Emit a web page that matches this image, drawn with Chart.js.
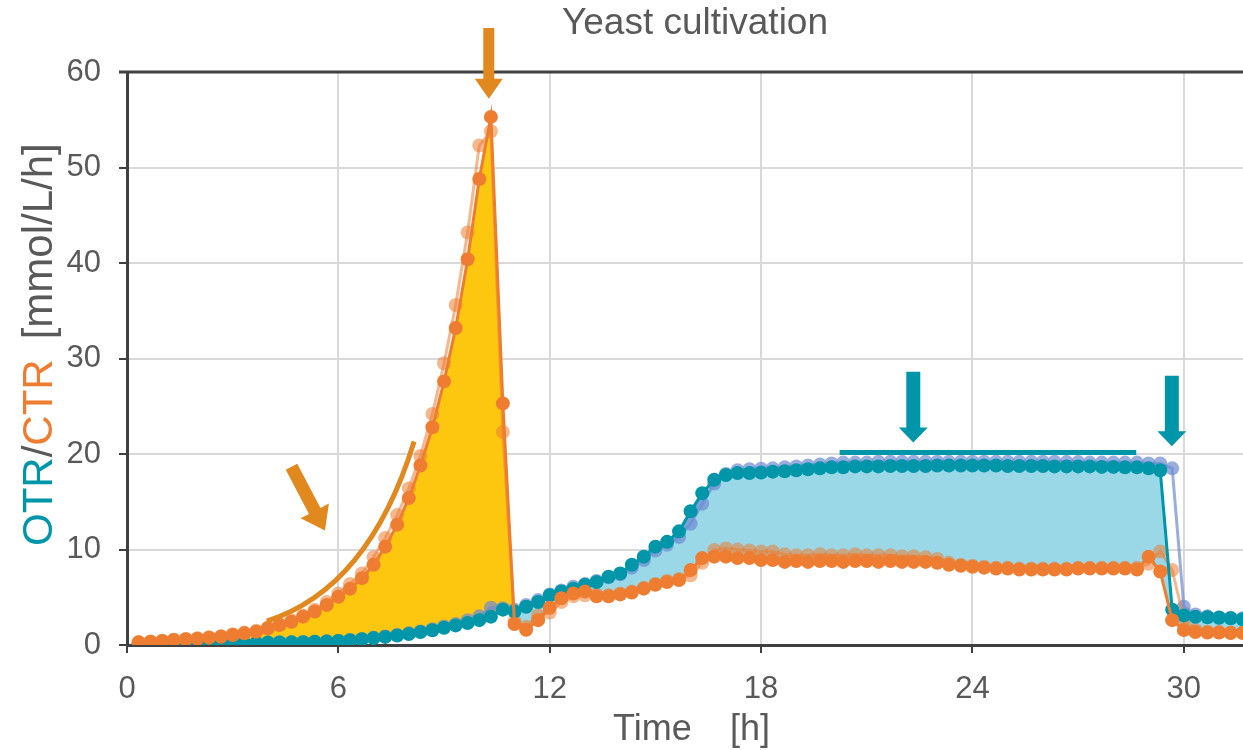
<!DOCTYPE html>
<html>
<head>
<meta charset="utf-8">
<script src="https://cdn.jsdelivr.net/npm/chart.js@4/dist/chart.umd.min.js"></script>
<style>
  html, body { margin: 0; padding: 0; background: #ffffff; }
  #wrap { width: 1243px; height: 750px; }
</style>
</head>
<body>
<div id="wrap"><canvas id="c" width="1243" height="750"></canvas></div>
<script>
// ---------- data ----------
const times = [0.33,0.67,1.00,1.33,1.67,2.00,2.33,2.67,3.00,3.33,3.67,4.00,4.33,4.67,5.00,5.33,5.67,6.00,6.33,6.67,
  7.00,7.33,7.67,8.00,8.33,8.67,9.00,9.33,9.67,10.00,10.33,10.67,11.00,11.33,11.67,12.00,12.33,12.67,13.00,13.33,
  13.67,14.00,14.33,14.67,15.00,15.33,15.67,16.00,16.33,16.67,17.00,17.33,17.67,18.00,18.33,18.67,19.00,19.33,19.67,20.00,
  20.33,20.67,21.00,21.33,21.67,22.00,22.33,22.67,23.00,23.33,23.67,24.00,24.33,24.67,25.00,25.33,25.67,26.00,26.33,26.67,
  27.00,27.33,27.67,28.00,28.33,28.67,29.00,29.33,29.67,30.00,30.33,30.67,31.00,31.33,31.67];

const ctr = [0.28,0.35,0.42,0.52,0.6,0.66,0.77,0.87,1.05,1.22,
  1.4,1.75,2.1,2.44,2.97,3.5,4.2,5.06,5.9,7.0,
  8.4,10.3,12.6,15.4,18.8,22.8,27.6,33.2,40.4,48.8,
  55.3,25.3,2.2,1.6,2.6,3.9,4.9,5.4,5.6,5.1,
  5.1,5.3,5.5,5.9,6.3,6.6,6.8,7.85,9.1,9.25,
  9.25,9.1,9.1,8.9,8.9,8.7,8.8,8.7,8.8,8.8,
  8.7,8.8,8.8,8.7,8.8,8.7,8.7,8.7,8.6,8.4,
  8.3,8.2,8.1,8.0,8.0,7.9,7.9,7.9,7.9,7.9,
  8.0,8.0,8.0,8.0,8.0,7.9,9.25,7.7,2.6,1.57,
  1.35,1.3,1.3,1.25,1.25];

const ctrReplicate = [0.3,0.37,0.45,0.55,0.63,0.7,0.82,0.93,1.12,1.3,
  1.5,1.85,2.2,2.6,3.1,3.7,4.5,5.4,6.4,7.5,
  9.2,11.2,13.6,16.4,19.8,24.2,29.5,35.6,43.2,52.3,
  53.8,22.3,2.5,1.9,3.1,3.4,4.5,5.1,5.2,5.3,
  5.2,5.4,5.6,6.0,6.4,6.7,6.9,7.3,8.6,9.95,
  10.1,10.0,9.9,9.8,9.8,9.5,9.4,9.4,9.5,9.4,
  9.4,9.5,9.4,9.4,9.4,9.3,9.3,9.2,9.0,8.6,
  8.4,8.3,8.2,8.1,8.1,8.0,8.0,8.0,8.0,8.0,
  8.1,8.1,8.1,8.1,8.1,8.1,8.5,9.8,7.85,2.8,
  1.6,1.4,1.35,1.3,1.3];

const otr = [0.1,0.1,0.12,0.12,0.14,0.15,0.15,0.17,0.18,0.2,
  0.22,0.25,0.27,0.28,0.3,0.33,0.36,0.42,0.5,0.6,
  0.72,0.85,1.0,1.15,1.35,1.55,1.8,2.05,2.3,2.6,
  2.97,3.7,3.5,4.0,4.5,5.2,5.6,5.9,6.3,6.6,
  7.15,7.5,8.4,9.25,10.3,10.8,11.9,14.0,15.9,17.3,
  17.8,18.0,18.0,18.05,18.15,18.2,18.3,18.4,18.5,18.6,
  18.6,18.7,18.7,18.7,18.75,18.75,18.75,18.75,18.8,18.8,
  18.8,18.8,18.8,18.8,18.75,18.75,18.75,18.75,18.7,18.7,
  18.7,18.7,18.65,18.65,18.6,18.6,18.5,18.3,3.7,3.1,
  2.95,2.9,2.85,2.8,2.7];

const otrReplicate = [0.12,0.12,0.14,0.15,0.16,0.17,0.18,0.19,0.2,0.22,
  0.24,0.27,0.29,0.3,0.32,0.35,0.38,0.45,0.52,0.62,
  0.75,0.9,1.05,1.22,1.42,1.65,1.95,2.2,2.6,3.0,
  3.9,3.85,3.7,4.2,4.7,5.3,5.7,6.1,6.4,6.7,
  7.1,7.4,8.1,8.9,9.9,10.5,11.3,12.7,14.8,16.9,
  17.9,18.3,18.4,18.45,18.5,18.6,18.7,18.8,18.9,19.0,
  19.1,19.1,19.1,19.2,19.2,19.2,19.2,19.2,19.2,19.2,
  19.2,19.2,19.2,19.2,19.2,19.2,19.2,19.2,19.2,19.15,
  19.15,19.1,19.1,19.1,19.1,19.1,19.0,19.0,18.5,4.0,
  3.2,3.0,2.9,2.85,2.8];

const xTicks = [0, 6, 12, 18, 24, 30];
const yTicks = [0, 10, 20, 30, 40, 50, 60];

const chartTitle = 'Yeast cultivation';
const xTitle = ['Time', '[h]'];
const yTitleParts = ['OTR', '/', 'CTR', '[mmol/L/h]'];

// annotation anchors in data units
const peakArrow = { x: 10.27, yTop: 64.6, yTip: 57.2 };
const growthArrow = { x1: 4.67, y1: 18.67, x2: 5.62, y2: 12.0 };
const growthArc = { x0: 3.97, y0: 2.5, cx: 6.87, cy: 5.9, x1: 8.15, y1: 21.3 };
const plateauArrow = { x: 22.32, yTop: 28.6, yTip: 21.2 };
const endArrow = { x: 29.66, yTop: 28.2, yTip: 20.8 };
const plateauLine = { x0: 20.23, x1: 28.65, y: 20.16 };

// ---------- styles ----------
const FONT = "'Liberation Sans', Arial, sans-serif";
const TEAL = '#0096A9';
const ORANGE = '#EE7D31';
const ARROW_ORANGE = '#E1891F';
const GRAY = '#595959';
const AXIS = '#404040';

const toXY = (vals) => vals.map((v, i) => ({ x: times[i], y: v }));

function arrowPath(ctx, x1, y1, x2, y2, shaftW, headW, headL) {
  const dx = x2 - x1, dy = y2 - y1;
  const len = Math.hypot(dx, dy);
  const ux = dx / len, uy = dy / len;
  const px = -uy, py = ux;
  const bx = x2 - ux * headL, by = y2 - uy * headL;
  ctx.beginPath();
  ctx.moveTo(x1 + px * shaftW / 2, y1 + py * shaftW / 2);
  ctx.lineTo(bx + px * shaftW / 2, by + py * shaftW / 2);
  ctx.lineTo(bx + px * headW / 2, by + py * headW / 2);
  ctx.lineTo(x2, y2);
  ctx.lineTo(bx - px * headW / 2, by - py * headW / 2);
  ctx.lineTo(bx - px * shaftW / 2, by - py * shaftW / 2);
  ctx.lineTo(x1 - px * shaftW / 2, y1 - py * shaftW / 2);
  ctx.closePath();
  ctx.fill();
}

const decorations = {
  id: 'decorations',
  afterDatasetsDraw(chart) {
    const { ctx, chartArea, scales: { x, y } } = chart;
    ctx.save();
    ctx.strokeStyle = AXIS; ctx.lineWidth = 3;
    ctx.beginPath();
    ctx.moveTo(chartArea.left - 8, y.getPixelForValue(60));
    ctx.lineTo(chartArea.right, y.getPixelForValue(60));
    ctx.stroke();

    ctx.strokeStyle = ARROW_ORANGE; ctx.lineWidth = 5; ctx.lineCap = 'butt';
    ctx.beginPath();
    ctx.moveTo(x.getPixelForValue(growthArc.x0), y.getPixelForValue(growthArc.y0));
    ctx.quadraticCurveTo(x.getPixelForValue(growthArc.cx), y.getPixelForValue(growthArc.cy),
                         x.getPixelForValue(growthArc.x1), y.getPixelForValue(growthArc.y1));
    ctx.stroke();

    ctx.fillStyle = ARROW_ORANGE;
    arrowPath(ctx, x.getPixelForValue(growthArrow.x1), y.getPixelForValue(growthArrow.y1),
              x.getPixelForValue(growthArrow.x2), y.getPixelForValue(growthArrow.y2), 13, 32, 22);
    arrowPath(ctx, x.getPixelForValue(peakArrow.x), y.getPixelForValue(peakArrow.yTop),
              x.getPixelForValue(peakArrow.x), y.getPixelForValue(peakArrow.yTip), 11, 28, 20);

    ctx.fillStyle = TEAL;
    arrowPath(ctx, x.getPixelForValue(plateauArrow.x), y.getPixelForValue(plateauArrow.yTop),
              x.getPixelForValue(plateauArrow.x), y.getPixelForValue(plateauArrow.yTip), 14, 29, 15);
    arrowPath(ctx, x.getPixelForValue(endArrow.x), y.getPixelForValue(endArrow.yTop),
              x.getPixelForValue(endArrow.x), y.getPixelForValue(endArrow.yTip), 14, 29, 15);
    ctx.strokeStyle = TEAL; ctx.lineWidth = 5;
    ctx.beginPath();
    ctx.moveTo(x.getPixelForValue(plateauLine.x0), y.getPixelForValue(plateauLine.y));
    ctx.lineTo(x.getPixelForValue(plateauLine.x1), y.getPixelForValue(plateauLine.y));
    ctx.stroke();
    ctx.restore();
  },
  afterDraw(chart) {
    const { ctx } = chart;
    ctx.save();
    ctx.fillStyle = GRAY;
    ctx.font = '37px ' + FONT;
    ctx.textAlign = 'center';
    ctx.textBaseline = 'alphabetic';
    ctx.fillText(chartTitle, 695, 34);

    ctx.textAlign = 'left';
    ctx.font = '36px ' + FONT;
    ctx.fillText(xTitle[0], 613, 740);
    ctx.fillText(xTitle[1], 730, 740);

    ctx.font = '42px ' + FONT;
    ctx.translate(52, 546);
    ctx.rotate(-Math.PI / 2);
    let pos = 0;
    const cols = [TEAL, GRAY, ORANGE, GRAY];
    yTitleParts.forEach((p, i) => {
      if (i === 3) pos += 20;
      ctx.fillStyle = cols[i];
      ctx.fillText(p, pos, 0);
      pos += ctx.measureText(p).width;
    });
    ctx.restore();
  }
};

const ctx = document.getElementById('c').getContext('2d');
const pt = { borderWidth: 3, pointRadius: 7, pointBorderWidth: 0, tension: 0 };
new Chart(ctx, {
  type: 'line',
  data: {
    datasets: [
      Object.assign({
        label: 'CTR', data: toXY(ctr),
        borderColor: ORANGE, backgroundColor: ORANGE, pointBackgroundColor: ORANGE,
        fill: { target: 1, above: '#FDC70F', below: '#9AD8E8' }
      }, pt),
      Object.assign({
        label: 'OTR', data: toXY(otr),
        borderColor: TEAL, backgroundColor: TEAL, pointBackgroundColor: TEAL, fill: false
      }, pt),
      Object.assign({
        label: 'CTR replicate', data: toXY(ctrReplicate),
        borderColor: 'rgba(237,125,49,0.55)', backgroundColor: 'rgba(237,125,49,0.55)',
        pointBackgroundColor: 'rgba(237,125,49,0.55)', fill: false
      }, pt),
      Object.assign({
        label: 'OTR replicate', data: toXY(otrReplicate),
        borderColor: 'rgba(110,140,210,0.7)', backgroundColor: 'rgba(110,140,210,0.7)',
        pointBackgroundColor: 'rgba(110,140,210,0.7)', fill: false
      }, pt)
    ]
  },
  options: {
    responsive: false,
    animation: false,
    layout: { autoPadding: false, padding: { top: 72, right: 0, left: 0, bottom: 0 } },
    plugins: {
      legend: { display: false },
      tooltip: { enabled: false },
      title: { display: false },
      filler: { drawTime: 'beforeDatasetsDraw' }
    },
    scales: {
      x: {
        type: 'linear', min: 0, max: 31.68,
        afterBuildTicks: (ax) => { ax.ticks = xTicks.map(v => ({ value: v })); },
        afterFit: (ax) => { ax.height = 105; },
        ticks: { color: GRAY, font: { size: 31, family: FONT }, padding: 18, maxRotation: 0 },
        grid: { color: '#D9D9D9', lineWidth: 2, tickColor: AXIS, tickLength: 8, tickWidth: 2 },
        border: { color: AXIS, width: 3 }
      },
      y: {
        min: 0, max: 60,
        afterBuildTicks: (ax) => { ax.ticks = yTicks.map(v => ({ value: v })); },
        afterFit: (ax) => { ax.width = 127; },
        ticks: { color: GRAY, font: { size: 31, family: FONT }, padding: 18 },
        grid: { color: '#D9D9D9', lineWidth: 2, tickColor: AXIS, tickLength: 8, tickWidth: 2 },
        border: { color: AXIS, width: 3 }
      }
    }
  },
  plugins: [decorations]
});
</script>
</body>
</html>
